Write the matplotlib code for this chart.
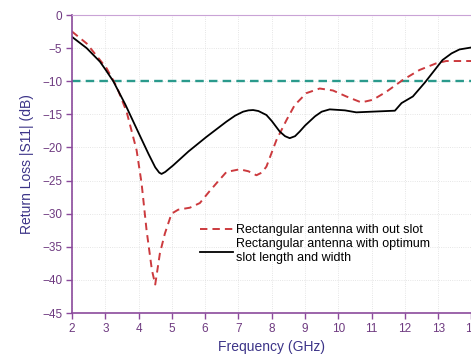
import numpy as np
import matplotlib.pyplot as plt

plt.rcParams['font.family'] = ['Liberation Sans', 'DejaVu Sans']

# measured curves (frequency in GHz, return loss in dB)
f_slot = [2.0, 2.44, 2.84, 3.0, 3.24, 3.6, 4.0, 4.3, 4.5, 4.62, 4.69, 4.8, 5.04, 5.5,
          6.04, 6.64, 6.9, 7.14, 7.3, 7.44, 7.6, 7.84, 8.0, 8.24, 8.4, 8.54, 8.7, 8.84,
          9.0, 9.3, 9.5, 9.74, 10.2, 10.54, 11.0, 11.7, 11.9, 12.24, 12.6, 13.13,
          13.4, 13.64, 14.0]
s11_slot = [-3.3, -5.0, -7.05, -8.2, -10.0, -13.5, -17.8, -21.0, -23.0, -23.8, -24.0,
            -23.7, -22.7, -20.6, -18.4, -16.1, -15.2, -14.6, -14.4, -14.35, -14.5,
            -15.1, -16.0, -17.6, -18.3, -18.6, -18.3, -17.6, -16.7, -15.3, -14.6,
            -14.25, -14.4, -14.7, -14.6, -14.45, -13.3, -12.3, -10.2, -6.8, -5.8,
            -5.2, -4.9]

f_noslot = [2.0, 2.44, 3.04, 3.34, 3.64, 3.94, 4.09, 4.24, 4.4, 4.5, 4.64, 4.79, 4.99,
            5.19, 5.54, 5.84, 6.1, 6.34, 6.64, 7.04, 7.3, 7.54, 7.7, 7.84, 8.14, 8.44,
            8.69, 9.04, 9.44, 9.84, 10.24, 10.69, 11.04, 11.44, 11.94, 12.44, 12.94,
            13.24, 14.0]
s11_noslot = [-2.5, -4.3, -8.05, -10.8, -14.6, -20.4, -25.4, -32.5, -38.5, -40.7, -36.0,
              -33.0, -30.0, -29.4, -29.1, -28.4, -26.8, -25.4, -23.7, -23.3, -23.6,
              -24.2, -23.8, -22.9, -18.9, -15.9, -13.6, -11.8, -11.1, -11.4, -12.3,
              -13.2, -12.8, -11.6, -9.8, -8.3, -7.3, -6.95, -6.95]

ref_level = -10

purple = '#8b4a9c'
tick_col = '#6e3a80'
label_col = '#3c3488'

fig = plt.figure(figsize=(4.71, 3.58), dpi=100)
ax = fig.add_axes([72/471, 1-313/358, 1-72/471 + 0.001, (313-15)/358])

ax.axhline(ref_level, color='#2a9a8c', lw=1.7, dashes=(3.6, 2.2))
ax.plot(f_noslot, s11_noslot, color='#cc3a3e', lw=1.4, dashes=(3.8, 2.6),
        label='Rectangular antenna with out slot')
ax.plot(f_slot, s11_slot, color='black', lw=1.3,
        label='Rectangular antenna with optimum\nslot length and width')

ax.set_xlim(2, 14)
ax.set_ylim(-45, 0)
ax.set_xticks(np.arange(2, 15, 1))
ax.set_yticks(np.arange(-45, 1, 5))
ax.grid(True, color='#dddddd', lw=0.6, ls=':')

for side in ['left', 'bottom']:
    ax.spines[side].set_color(purple)
    ax.spines[side].set_linewidth(1.2)
ax.spines['top'].set_color('#c9a3d6')
ax.spines['right'].set_visible(False)
ax.tick_params(colors=purple, labelcolor=tick_col, labelsize=8.5, length=4, width=1, pad=3)

ax.set_xlabel('Frequency (GHz)', fontsize=10, color=label_col, labelpad=4)
ax.set_ylabel('Return Loss |S11| (dB)', fontsize=10, color=label_col, labelpad=6)

ax.legend(loc='upper left', bbox_to_anchor=(200/471, 1-224/358), bbox_transform=fig.transFigure,
          frameon=False, fontsize=9, handlelength=2.6, handletextpad=0.3,
          borderpad=0, borderaxespad=0, labelspacing=0.2)

fig.savefig('out.png', dpi=100)
